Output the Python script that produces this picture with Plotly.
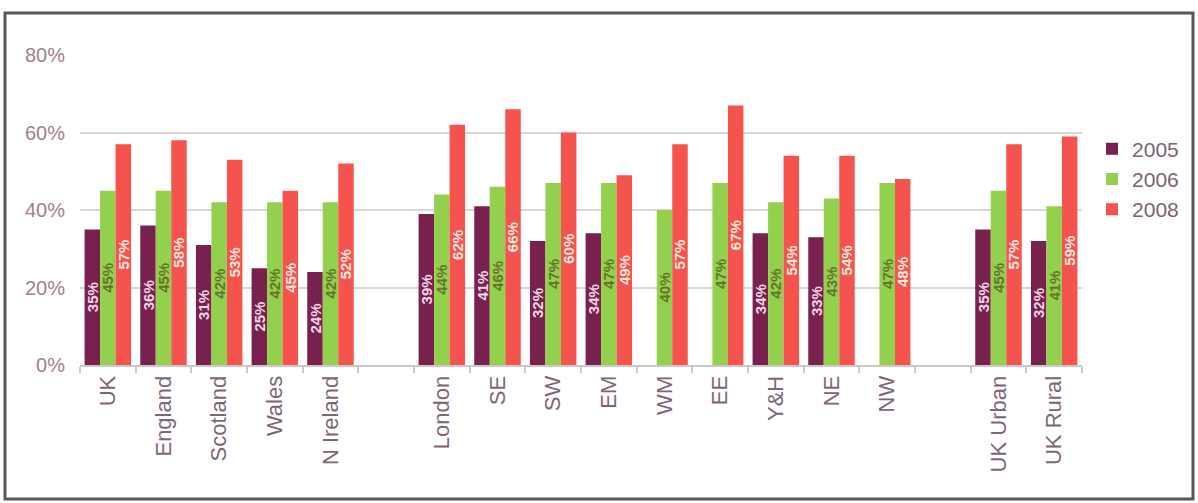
import plotly.graph_objects as go

# Categories ("" marks a spacer slot between region groups)
categories = ["UK", "England", "Scotland", "Wales", "N Ireland", "",
              "London", "SE", "SW", "EM", "WM", "EE", "Y&H", "NE", "NW", "",
              "UK Urban", "UK Rural"]

# Percentage values per year (None = no figure)
v2005 = [35, 36, 31, 25, 24, None, 39, 41, 32, 34, None, None, 34, 33, None, None, 35, 32]
v2006 = [45, 45, 42, 42, 42, None, 44, 46, 47, 47, 40, 47, 42, 43, 47, None, 45, 41]
v2008 = [57, 58, 53, 45, 52, None, 62, 66, 60, 49, 57, 67, 54, 54, 48, None, 57, 59]

y_ticks = [0, 20, 40, 60, 80]

series = [
    ("2005", v2005, "#78214e", "#f3d6e4"),
    ("2006", v2006, "#93d04e", "#65742a"),
    ("2008", v2008, "#f4544d", "#ffe6df"),
]

xpos = list(range(len(categories)))
label_pos = [i for i, c in enumerate(categories) if c]
label_txt = [c for c in categories if c]

fig = go.Figure()
for name, vals, color, tcolor in series:
    fig.add_trace(go.Bar(
        name=name,
        legendgroup=name,
        x=xpos,
        y=vals,
        marker=dict(color=color, line=dict(width=0)),
        text=[f"{v}%" if v is not None else "" for v in vals],
        textposition="inside",
        insidetextanchor="middle",
        textangle=-90,
        constraintext="none",
        textfont=dict(family="Arial", size=15, color=tcolor, weight="bold"),
        hoverinfo="skip",
    ))

fig.update_layout(
    width=1198,
    height=503,
    barmode="group",
    bargap=0.165,
    bargroupgap=0,
    paper_bgcolor="white",
    plot_bgcolor="white",
    margin=dict(l=80, r=116, t=55, b=138),
    font=dict(family="Arial"),
    legend=dict(
        x=1.01, y=0.6, xanchor="left", yanchor="middle",
        font=dict(size=21, color="#7a6474"),
        traceorder="normal",
        tracegroupgap=6,
        itemclick=False,
    ),
    xaxis=dict(
        range=[-0.5, len(categories) - 0.5],
        tickmode="array",
        tickvals=label_pos,
        ticktext=label_txt,
        tickangle=-90,
        ticks="",
        tickfont=dict(size=22, color="#7d6676"),
        showgrid=False,
        showline=True,
        linecolor="#cfc6c8",
        linewidth=2,
        zeroline=False,
        minor=dict(ticks="outside", tick0=-0.5, dtick=1, ticklen=6,
                   tickcolor="#cfc6c8", tickwidth=2, showgrid=False),
    ),
    yaxis=dict(
        range=[0, 80],
        tickmode="array",
        tickvals=y_ticks,
        ticktext=[f"{t}%" for t in y_ticks],
        tickfont=dict(size=20, color="#a07f88"),
        showgrid=True,
        gridcolor="#ddd4d4",
        gridwidth=2,
        zeroline=False,
        ticklabelstandoff=14,
    ),
    shapes=[dict(
        type="rect", xref="paper", yref="paper",
        x0=-75 / 1002, x1=1113 / 1002,
        y0=-134 / 310, y1=(310 + 42) / 310,
        line=dict(color="#585858", width=3),
        fillcolor="rgba(0,0,0,0)",
    )],
)

fig.write_html("out.html")
